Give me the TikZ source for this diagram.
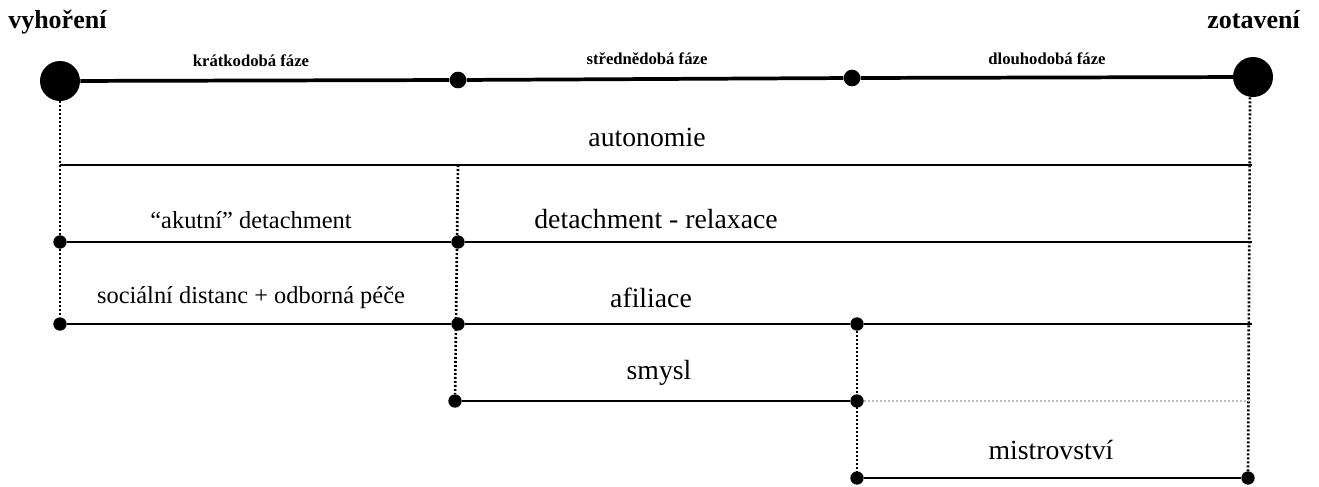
\documentclass[tikz,border=0pt]{standalone}
\usepackage{fontspec}
\setmainfont{Liberation Serif}
\begin{document}
\begin{tikzpicture}[x=0.75pt,y=-0.75pt,
  bigdot/.style={circle,fill=black,inner sep=0pt,minimum size=30pt},
  middot/.style={circle,fill=black,inner sep=0pt,minimum size=12.5pt},
  rowdot/.style={circle,fill=black,inner sep=0pt,minimum size=10pt},
  mainline/.style={line width=2.8pt},
  thickline/.style={line width=2.2pt},
  thinline/.style={line width=1.1pt},
  vdots/.style={line width=2pt,dash pattern=on 1.5pt off 1.5pt},
  greydots/.style={line width=1pt,black!25,dash pattern=on 1.5pt off 1.5pt},
  title/.style={font=\fontsize{19.5}{22}\selectfont\bfseries,inner sep=0pt},
  phase/.style={font=\fontsize{12.5}{14}\selectfont\bfseries,inner sep=0pt},
  lbl/.style={font=\fontsize{18.3}{21}\selectfont,inner sep=0pt},
  lblb/.style={font=\fontsize{20.8}{24}\selectfont,inner sep=0pt}]
\useasboundingbox (0,0) rectangle (1319,486);
% title
\node[title,anchor=base west] (t1) at (8,28) {vyhoření};
\node[title,anchor=base east] (t2) at (1300,28) {zotavení};
% main timeline
\node[bigdot] (A) at (60,81) {};
\node[middot] (B) at (458,80) {};
\node[middot] (C) at (852,78) {};
\node[bigdot] (D) at (1253,77) {};
\draw[mainline] (A) -- (B) -- (C) -- (D);
\node[phase] (p1) at (251,61) {krátkodobá fáze};
\node[phase] (p2) at (647,59) {střednědobá fáze};
\node[phase] (p3) at (1047,59) {dlouhodobá fáze};
% coordinates
\coordinate (auL) at (60,165);
\coordinate (auR) at (1252,165);
\coordinate (auM) at (458,165);
\node[rowdot] (d1L) at (60,242) {};
\node[rowdot] (d1M) at (458,242) {};
\coordinate (d1R) at (1252,242);
\node[rowdot] (d2L) at (60,324) {};
\node[rowdot] (d2M) at (458,324) {};
\node[rowdot] (d2N) at (857,324) {};
\coordinate (d2R) at (1252,324);
\node[rowdot] (d3M) at (455,401) {};
\node[rowdot] (d3N) at (857,401) {};
\coordinate (d3R) at (1248,401);
\node[rowdot] (d4N) at (857,478) {};
\node[rowdot] (d4R) at (1248,478) {};
% vertical dotted lines
\draw[vdots] (A) -- (d2L);
\draw[vdots] (D.south -| 1250,0) -- (d4R);
\draw[vdots] (auM) -- (d3M);
\draw[vdots] (d2N) -- (d4N);
% rows
\draw[thinline] (auL) -- (auR);
\node[lblb] (l0) at (647,137) {autonomie};
\draw[thickline] (d1L) -- (d1M);
\draw[thinline] (d1M) -- (d1R);
\node[lbl] (l1) at (251,220) {“akutní” detachment};
\node[lblb] (l2) at (656,219) {detachment - relaxace};
\draw[thickline] (d2L) -- (d2M);
\draw[thinline] (d2M) -- (d2N) -- (d2R);
\node[lbl] (l3) at (251,298) {sociální distanc + odborná péče};
\node[lblb] (l4) at (651,298) {afiliace};
\draw[thinline] (d3M) -- (d3N);
\draw[greydots] (d3N) -- (d3R);
\node[lblb] (l5) at (659,373) {smysl};
\draw[thinline] (d4N) -- (d4R);
\node[lblb] (l6) at (1051,450) {mistrovství};
\end{tikzpicture}
\end{document}
